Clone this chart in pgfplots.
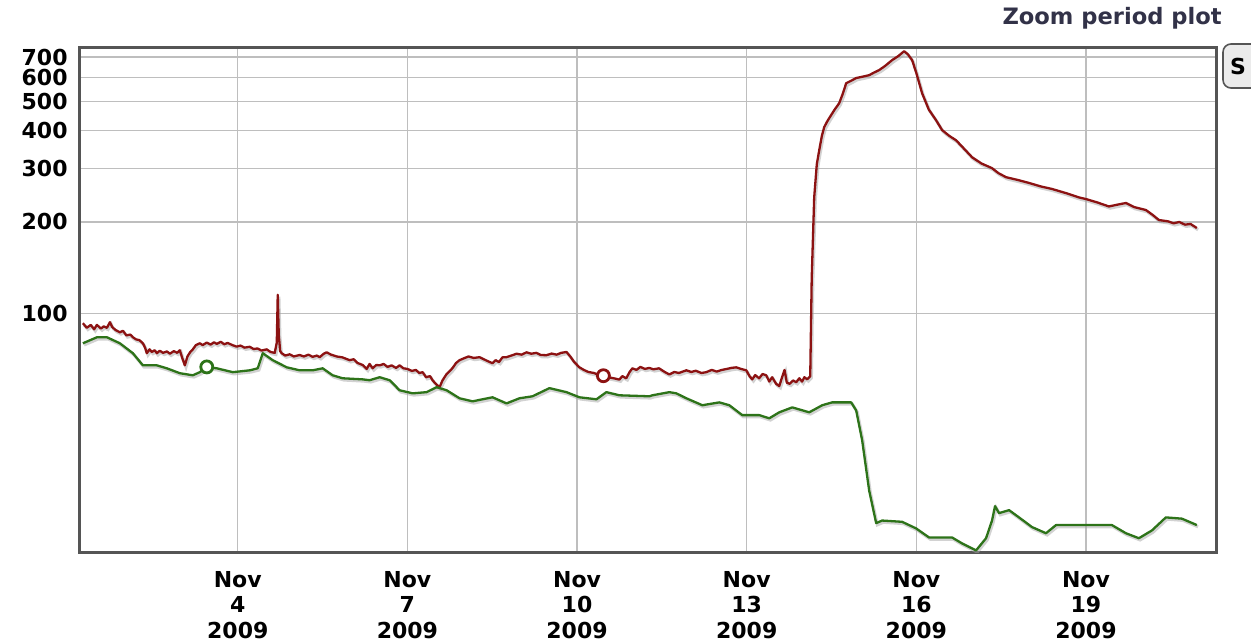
\documentclass[border=0pt]{standalone}
\usepackage{fontspec}
\setmainfont{DejaVu Sans}
\usepackage{pgfplots}
\usepackage{pgfplotstable}
\pgfplotsset{compat=1.18}
\definecolor{redline}{RGB}{140,18,18}
\definecolor{greenline}{RGB}{45,115,25}
\definecolor{gridc}{RGB}{190,190,190}
\definecolor{framec}{RGB}{85,85,85}
\definecolor{titlec}{RGB}{50,50,72}

\pgfplotstableread{
day val
1.261 92.7
1.33 89.5
1.40 91.5
1.46 88.5
1.509 91.5
1.58 89
1.63 90.5
1.686 89.5
1.739 93.4
1.78 90
1.84 88
1.915 86.5
1.97 87.5
2.03 84.5
2.10 85
2.145 83.3
2.20 82
2.26 81.5
2.322 79.6
2.36 77
2.392 73.8
2.44 76
2.48 74.5
2.53 75.5
2.569 73.8
2.62 75.2
2.68 74
2.746 74.8
2.80 73.5
2.87 75
2.93 74
2.975 75.5
3.02 71
3.064 67.3
3.11 72
3.16 74.5
3.205 76
3.26 78.5
3.329 79.6
3.38 78.5
3.45 80
3.52 78.8
3.58 80.2
3.629 79.2
3.70 80.5
3.76 79
3.82 79.8
3.912 78.4
3.98 77.6
4.05 78.2
4.12 77
4.212 77.5
4.28 76.2
4.35 76.5
4.42 75.3
4.512 76
4.58 74.5
4.654 74
4.69 80
4.707 115
4.725 85
4.75 75
4.777 73.8
4.84 72.5
4.919 73.2
4.99 72
5.095 72.8
5.17 72
5.25 73
5.325 71.8
5.40 72.5
5.449 71.6
5.52 73.5
5.572 74.3
5.65 73
5.75 72
5.85 71.5
5.979 70.0
6.05 70.5
6.12 68.5
6.208 67.5
6.28 65.5
6.33 68
6.385 65.8
6.45 67.5
6.509 67.3
6.58 68
6.65 66.5
6.72 67.3
6.80 66
6.862 67.3
6.93 65.8
7.0 65.5
7.08 64.5
7.15 65
7.21 63.5
7.269 63.9
7.33 61.5
7.40 62
7.445 60.1
7.50 58.5
7.569 57.0
7.62 60
7.693 63
7.75 64.5
7.80 66
7.86 68.5
7.922 70.0
8.00 71
8.08 72
8.17 71.2
8.276 71.6
8.35 70.5
8.42 69.5
8.505 68.4
8.56 70
8.62 69
8.68 71.5
8.753 71.6
8.84 72.5
8.93 73.5
9.02 73
9.106 74.3
9.19 73.5
9.28 74
9.36 72.8
9.459 72.7
9.55 73.6
9.64 73
9.72 74
9.813 74.5
9.88 72
9.95 69
10.042 66.3
10.12 65
10.20 64
10.30 63.5
10.396 62.4
10.466 62.2
10.55 61.5
10.65 61
10.749 60.4
10.80 62
10.87 61
10.93 64
10.979 65.8
11.05 65
11.12 66.5
11.20 65.5
11.279 66
11.35 65.3
11.45 65.8
11.55 64
11.633 62.8
11.72 64
11.80 63.5
11.933 64.8
12.02 64
12.10 64.6
12.20 63.5
12.286 63.9
12.38 65
12.47 64.2
12.56 65
12.65 65.5
12.73 66
12.816 66.3
12.90 65.5
12.993 64.8
13.05 62
13.099 60.5
13.15 62.5
13.22 61
13.28 63
13.346 62.4
13.40 59.5
13.45 61.5
13.52 58.5
13.576 57.5
13.62 61
13.67 65
13.71 59
13.76 58.5
13.82 60
13.876 59.2
13.93 61
13.98 59.5
14.02 61.5
14.071 60.5
14.124 62
14.15 130
14.194 241
14.24 310
14.283 345
14.33 385
14.371 411
14.42 428
14.459 440
14.55 468
14.636 493
14.70 530
14.760 574
14.85 585
14.936 597
15.05 603
15.166 610
15.25 622
15.343 634
15.45 655
15.572 684
15.68 705
15.784 732
15.85 715
15.926 684
16.0 620
16.102 532
16.22 470
16.350 433
16.456 402
16.58 385
16.703 372
16.85 348
16.986 327
17.15 312
17.339 301
17.45 290
17.587 281
17.8 275
17.993 269
18.2 262
18.399 257
18.647 249
18.876 241
19.000 238
19.2 232
19.406 225
19.55 228
19.707 231
19.85 224
20.060 219
20.18 211
20.290 203
20.45 201
20.55 198
20.65 200
20.75 196
20.85 197
20.961 191
}\redtable

\pgfplotstableread{
day val
1.261 79.6
1.509 83.3
1.686 83.3
1.915 79.6
2.145 73.8
2.322 67.3
2.569 67.3
2.746 65.8
2.975 63.4
3.205 62.4
3.329 63.9
3.452 66.5
3.629 65.8
3.912 63.9
4.212 64.8
4.353 65.8
4.442 73.8
4.618 70.0
4.866 66.3
5.095 64.8
5.325 64.8
5.502 65.8
5.678 62.4
5.855 61.0
6.208 60.5
6.332 60.1
6.509 61.5
6.686 60.1
6.862 55.7
7.092 54.4
7.339 54.9
7.516 57.0
7.693 55.7
7.922 52.4
8.152 51.2
8.505 52.8
8.753 50.4
8.982 52.4
9.212 53.2
9.512 56.6
9.813 54.9
10.042 52.8
10.343 52.0
10.519 54.9
10.749 53.6
11.279 53.2
11.332 53.6
11.633 54.9
11.756 54.4
11.933 52.4
12.216 49.7
12.516 50.8
12.693 49.7
12.922 46.1
13.223 46.1
13.399 45.0
13.576 47.1
13.806 48.9
14.106 47.1
14.336 49.7
14.512 50.8
14.848 50.8
14.936 47.8
15.042 38.1
15.166 26.0
15.290 20.3
15.396 20.7
15.749 20.5
15.996 19.5
16.226 18.2
16.633 18.2
16.809 17.4
17.057 16.5
17.233 18.1
17.339 20.7
17.392 23.1
17.463 21.9
17.640 22.4
17.816 21.2
18.046 19.7
18.293 18.8
18.470 20.0
18.876 20.0
19.459 20.0
19.707 18.8
19.936 18.1
20.166 19.2
20.413 21.2
20.696 21.0
20.961 20.0
}\greentable

\begin{document}
\begin{tikzpicture}
\useasboundingbox (0,0) rectangle (625.5pt,321.5pt);
\begin{axis}[
  at={(40pt,45.5pt)}, anchor=south west,
  scale only axis, width=568pt, height=252pt,
  ymode=log,
  xmin=1.21, xmax=21.30, ymin=16.3, ymax=750,
  xtick={4,7,10,13,16,19},
  xticklabels={{Nov\\4\\2009},{Nov\\7\\2009},{Nov\\10\\2009},{Nov\\13\\2009},{Nov\\16\\2009},{Nov\\19\\2009}},
  ytick={100,200,300,400,500,600,700},
  yticklabels={100,200,300,400,500,600,700},
  minor ytick={},
  grid=major,
  major grid style={gridc, line width=0.6pt},
  axis line style={framec, line width=1.5pt},
  major tick length=0pt,
  tick label style={font=\fontsize{11}{12.75}\selectfont\bfseries},
  xticklabel style={align=center, anchor=north, inner sep=0pt, yshift=-9.5pt},
  yticklabel style={anchor=east, inner sep=0pt, xshift=-6pt},
  /pgf/number format/assume math mode=true,
]
\addplot[black!35, opacity=0.5, line width=1.5pt, xshift=0.6pt, yshift=-0.9pt] table[x=day,y=val] {\redtable};
\addplot[black!35, opacity=0.5, line width=1.5pt, xshift=0.6pt, yshift=-0.9pt] table[x=day,y=val] {\greentable};
\addplot[redline, line width=1.15pt, line join=round] table[x=day,y=val] {\redtable};
\addplot[greenline, line width=1.15pt, line join=round] table[x=day,y=val] {\greentable};
\addplot[only marks, mark=*, mark size=3pt, mark options={fill=white, draw=greenline, line width=1.4pt}] coordinates {(3.452,66.5)};
\addplot[only marks, mark=*, mark size=3pt, mark options={fill=white, draw=redline, line width=1.4pt}] coordinates {(10.466,62.2)};
\end{axis}
\node[anchor=base east, inner sep=0pt, text=titlec, font=\fontsize{11.3}{13}\selectfont\bfseries] at (611pt,309pt) {Zoom period plot};
\draw[framec, line width=0.8pt, fill=black!8, rounded corners=4pt] (611.5pt,277.5pt) rectangle (660pt,299.5pt);
\node[inner sep=0pt, font=\fontsize{11}{13}\selectfont\bfseries] at (619pt,288.5pt) {S};
\end{tikzpicture}
\end{document}
